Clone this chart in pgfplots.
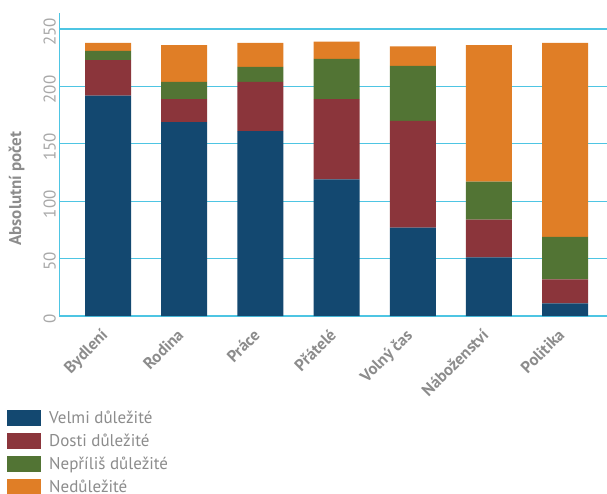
\documentclass[border=0pt]{standalone}
\usepackage{pgfplots}
\pgfplotsset{compat=1.18}
\usepackage{fontspec}
\setmainfont{PT Sans}

\definecolor{cBlue}{HTML}{134870}
\definecolor{cRed}{HTML}{8B353B}
\definecolor{cGreen}{HTML}{527434}
\definecolor{cOrange}{HTML}{E07E26}
\definecolor{cGrid}{HTML}{4EC5E3}
\definecolor{cLabel}{HTML}{8C8C8C}
\definecolor{cTick}{HTML}{A8A8A8}

\begin{document}
\begin{tikzpicture}[x=1pt,y=1pt]
\begin{axis}[
  at={(59.3pt,177pt)}, anchor=south west,
  scale only axis, width=547.7pt, height=303pt,
  ybar stacked, bar width=46pt, bar shift=0pt,
  xmin=-0.64, xmax=6.55, ymin=0, ymax=264,
  axis x line*=bottom, axis y line*=left,
  axis line style={cGrid, line width=1.2pt, -},
  ymajorgrids, grid style={cGrid, line width=1.2pt},
  ytick={0,50,...,250}, xtick=data,
  xticklabels={Bydlení,Rodina,Práce,Přátelé,Volný čas,Náboženství,Politika},
  major tick length=0pt,
  /pgf/number format/assume math mode=true,
  yticklabel style={rotate=90, anchor=south, xshift=-3pt, font=\fontsize{17}{17}\selectfont, text=cTick},
  xticklabel style={xshift=-8pt, yshift=-7pt, rotate=45, anchor=north east, font=\bfseries\fontsize{16.5}{16.5}\selectfont, text=cLabel},
  ylabel={Absolutní počet},
  ylabel style={at={(axis description cs:-0.078,0.42)}, anchor=center, font=\bfseries\fontsize{17}{17}\selectfont, text=cLabel},
  legend style={at={(axis description cs:-0.0955,-0.311)}, anchor=north west,
    draw=none, fill=none, inner sep=0pt, row sep=7pt,
    font=\fontsize{17}{17}\selectfont, text=cLabel, cells={anchor=west},
    nodes={inner sep=0pt}},
  legend image code/.code={\fill[#1] (0pt,-8pt) rectangle (34pt,8pt);},
  /tikz/every odd column/.append style={column sep=8pt},
  legend cell align=left,
]
\addplot[fill=cBlue, draw=none] coordinates {(0,192) (1,169) (2,161) (3,119) (4,77) (5,51) (6,11)};
\addlegendentry{Velmi důležité}
\addplot[fill=cRed, draw=none] coordinates {(0,31) (1,20) (2,43) (3,70) (4,93) (5,33) (6,21)};
\addlegendentry{Dosti důležité}
\addplot[fill=cGreen, draw=none] coordinates {(0,8) (1,15) (2,13) (3,35) (4,48) (5,33) (6,37)};
\addlegendentry{Nepříliš důležité}
\addplot[fill=cOrange, draw=none] coordinates {(0,7) (1,32) (2,21) (3,15) (4,17) (5,119) (6,169)};
\addlegendentry{Nedůležité}
\end{axis}
\pgfresetboundingbox
\path (0,0) rectangle (607,493);
\end{tikzpicture}
\end{document}
